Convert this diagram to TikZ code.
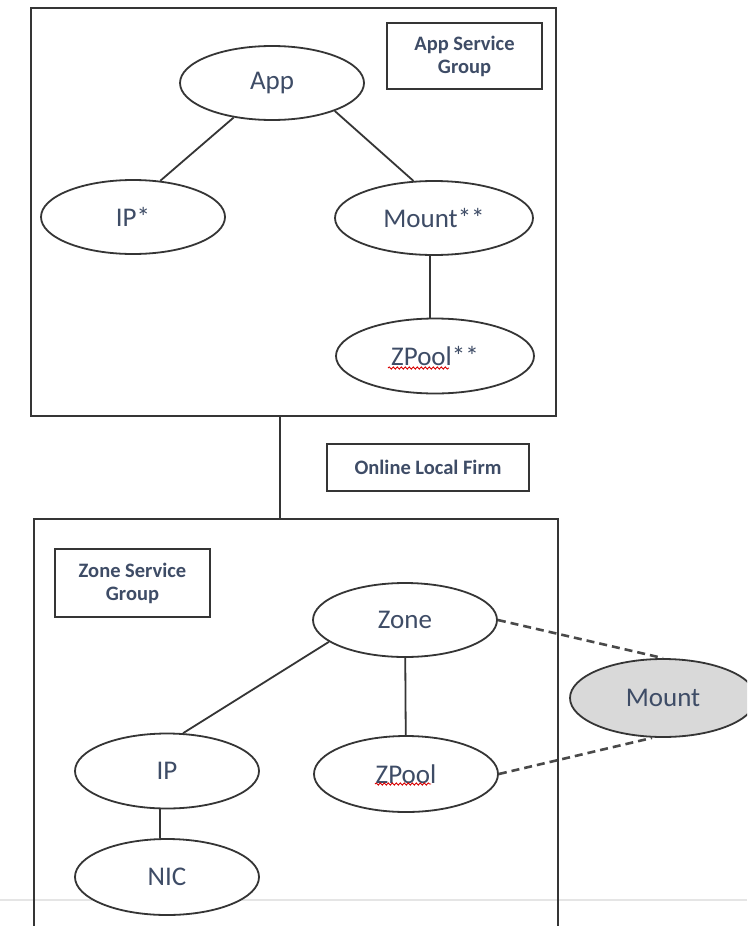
\documentclass[tikz,border=0pt]{standalone}
\usepackage{fontspec}
\setmainfont{Carlito}
\usetikzlibrary{shapes.geometric,decorations.pathmorphing}
\definecolor{labelblue}{HTML}{3E4C66}
\definecolor{edgegray}{HTML}{353535}
\definecolor{mountfill}{HTML}{D9D9D9}
\tikzset{
  res/.style={ellipse, draw=edgegray, line width=1.8pt, fill=white,
    inner sep=0pt, text=labelblue, font=\fontsize{27}{30}\selectfont},
  grpframe/.style={draw=edgegray, line width=2.2pt, inner sep=0pt},
  tagbox/.style={draw=edgegray, line width=2pt, fill=white, align=center,
    text=labelblue, font=\bfseries\fontsize{20.5}{23}\selectfont, inner sep=0pt},
  link/.style={draw=edgegray, line width=1.8pt},
  dep/.style={draw=edgegray!90, line width=2.6pt, dash pattern=on 8pt off 5pt},
  spell/.style={draw=red!85!black, line width=0.9pt,
    decorate, decoration={snake, segment length=4pt, amplitude=1.1pt}}
}
\begin{document}
\begin{tikzpicture}[x=1pt,y=-1pt]
\clip (0,0) rectangle (747,926);
\fill[white] (0,0) rectangle (747,926);
% faint page rule near the bottom
\draw[black!10, line width=1.5pt] (0,900) -- (747,900);

% service group frames
\node[grpframe, minimum width=525pt, minimum height=408pt] (appgrp) at (293.5,212) {};
\node[grpframe, minimum width=524pt, minimum height=440pt, anchor=north west] (zonegrp) at (33,518) {};
\coordinate (xlink) at (280,0);
\draw[link, line width=2pt] (appgrp.south -| xlink) -- (zonegrp.north -| xlink);

% group tags
\node[tagbox, minimum width=155pt, minimum height=66pt] (apptag) at (464.5,56) {App Service\\Group};
\node[tagbox, minimum width=202pt, minimum height=47pt] (firm) at (428,467.5) {Online Local Firm};
\node[tagbox, minimum width=155pt, minimum height=68pt] (zonetag) at (132.5,583) {Zone Service\\Group};

% app service group resources
\node[res, minimum width=184pt, minimum height=74pt] (app) at (272,83) {App};
\node[res, minimum width=184pt, minimum height=74pt] (ipa) at (133,217) {IP*};
\node[res, minimum width=198pt, minimum height=74pt] (mounta) at (434,218) {Mount**};
\node[res, minimum width=198pt, minimum height=75pt] (zpoola) at (435,356) {ZPool**};
\draw[link] (app.222) -- (ipa.53);
\draw[link] (app.-24) -- (mounta.119);
\draw[link] (mounta.south -| 430,0) -- (zpoola.north -| 430,0);
\draw[spell] (388,368) -- (449,368);

% zone service group resources
\node[res, minimum width=184pt, minimum height=74pt] (zone) at (405,620) {Zone};
\node[res, minimum width=184pt, minimum height=75pt] (ipz) at (167,771) {IP};
\node[res, minimum width=184pt, minimum height=76pt] (zpoolz) at (406,774) {ZPool};
\node[res, minimum width=184pt, minimum height=76pt] (nic) at (167,877) {NIC};
\node[res, fill=mountfill, minimum width=186pt, minimum height=78pt] (mountz) at (663,698) {Mount};
\draw[link] (zone.196) -- (ipz.67);
\draw[link] (zone) -- (zpoolz);
\draw[link] (ipz.south -| 160,0) -- (nic.north -| 160,0);
\draw[spell] (375,784) -- (431,784);

% external mount dependencies
\draw[dep] (zone.east) -- (mountz.north);
\draw[dep] (zpoolz.east) -- ([xshift=-11pt]mountz.south);
\end{tikzpicture}
\end{document}
